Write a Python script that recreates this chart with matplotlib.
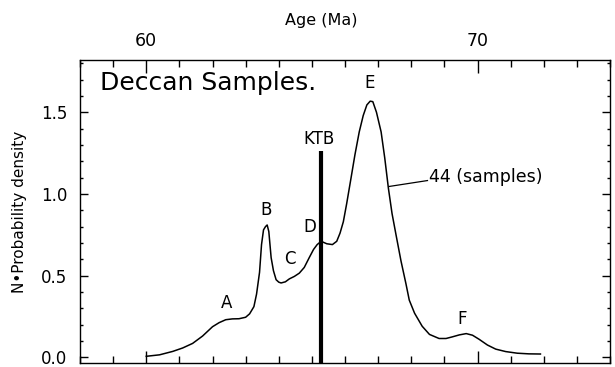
import matplotlib
matplotlib.use("Agg")
import matplotlib.pyplot as plt
import matplotlib.ticker as ticker

# probability density curve (age in Ma, N*density)
AGE = [60.0, 60.4, 60.8, 61.1, 61.4, 61.7, 62.0, 62.2, 62.4, 62.6, 62.8,
       63.0, 63.12, 63.25, 63.33, 63.42, 63.48, 63.54, 63.6, 63.65, 63.7,
       63.77, 63.84, 63.92, 64.0, 64.07, 64.2, 64.32, 64.47, 64.62, 64.77,
       64.92, 65.05, 65.16, 65.28, 65.45, 65.62, 65.75, 65.85, 65.95,
       66.05, 66.18, 66.3, 66.43, 66.55, 66.66, 66.76, 66.84, 66.95,
       67.09, 67.2, 67.31, 67.42, 67.54, 67.69, 67.84, 67.94, 68.1,
       68.33, 68.55, 68.84, 69.05, 69.24, 69.45, 69.66, 69.85, 70.05,
       70.3, 70.55, 70.85, 71.2, 71.55, 71.9]
DENSITY = [0.006, 0.015, 0.036, 0.057, 0.085, 0.13, 0.187, 0.212, 0.23,
           0.235, 0.236, 0.245, 0.266, 0.31, 0.387, 0.52, 0.69, 0.78, 0.80,
           0.81, 0.77, 0.61, 0.53, 0.475, 0.46, 0.455, 0.462, 0.48, 0.495,
           0.515, 0.55, 0.61, 0.66, 0.69, 0.71, 0.695, 0.69, 0.71, 0.76,
           0.83, 0.94, 1.095, 1.24, 1.38, 1.48, 1.545, 1.568, 1.565, 1.5,
           1.38, 1.22, 1.035, 0.88, 0.75, 0.59, 0.45, 0.35, 0.27, 0.19,
           0.14, 0.115, 0.115, 0.125, 0.137, 0.145, 0.135, 0.11, 0.075,
           0.05, 0.035, 0.025, 0.021, 0.02]

PEAK_LABELS = ["A", "B", "C", "D", "E", "F"]
PEAK_AGES = [62.42, 63.63, 64.35, 64.93, 66.73, 69.54]
PEAK_Y = [0.33, 0.90, 0.60, 0.80, 1.68, 0.236]

KTB_AGE = 65.27
KTB_TOP = 1.264
N_SAMPLES = 44

fig = plt.figure(figsize=(6.15, 3.67), dpi=100)
ax = fig.add_axes([80 / 615, 4 / 367, 530 / 615, 303 / 367])

ax.plot(AGE, DENSITY, color="black", linewidth=1.1)
ax.plot([KTB_AGE, KTB_AGE], [-0.035, KTB_TOP], color="black", linewidth=3.0,
        solid_capstyle="butt", clip_on=False)

ax.set_xlim(58, 74)
ax.set_ylim(-0.035, 1.82)

for lab, x, y in zip(PEAK_LABELS, PEAK_AGES, PEAK_Y):
    ax.text(x, y, lab, fontsize=12, ha="center", va="center")
ax.text(KTB_AGE - 0.04, 1.336, "KTB", fontsize=12, ha="center", va="center")
ax.text(68.54, 1.106, f"{N_SAMPLES} (samples)", fontsize=12.5, ha="left", va="center")
ax.plot([67.34, 68.49], [1.046, 1.082], color="black", linewidth=0.9)
ax.text(58.6, 1.68, "Deccan Samples.", fontsize=18, ha="left", va="center")

# axes styling: ticks inside on all four sides, labels top and left
ax.xaxis.set_major_locator(ticker.MultipleLocator(10))
ax.xaxis.set_minor_locator(ticker.MultipleLocator(1))
ax.yaxis.set_major_locator(ticker.MultipleLocator(0.5))
ax.yaxis.set_minor_locator(ticker.MultipleLocator(0.1))
ax.yaxis.set_major_formatter(ticker.FormatStrFormatter("%.1f"))
ax.tick_params(axis="both", which="both", direction="in",
               top=True, bottom=True, left=True, right=True,
               labeltop=True, labelbottom=False, labelsize=12.5, width=1.0)
ax.tick_params(axis="y", labelsize=12)
ax.tick_params(axis="x", which="major", length=9, pad=7)
ax.tick_params(axis="x", which="minor", length=5)
ax.tick_params(axis="y", which="major", length=6, pad=9)
ax.tick_params(axis="y", which="minor", length=2.5)
for sp in ax.spines.values():
    sp.set_linewidth(1.0)

# axis title sits left of the axes centre in the original
fig.text(321 / 615, 1 - 20 / 367, "Age (Ma)", fontsize=11.5, ha="center", va="center")
ax.set_ylabel("N\u2022Probability density", fontsize=11, labelpad=10)

fig.savefig("out.png", dpi=100)
